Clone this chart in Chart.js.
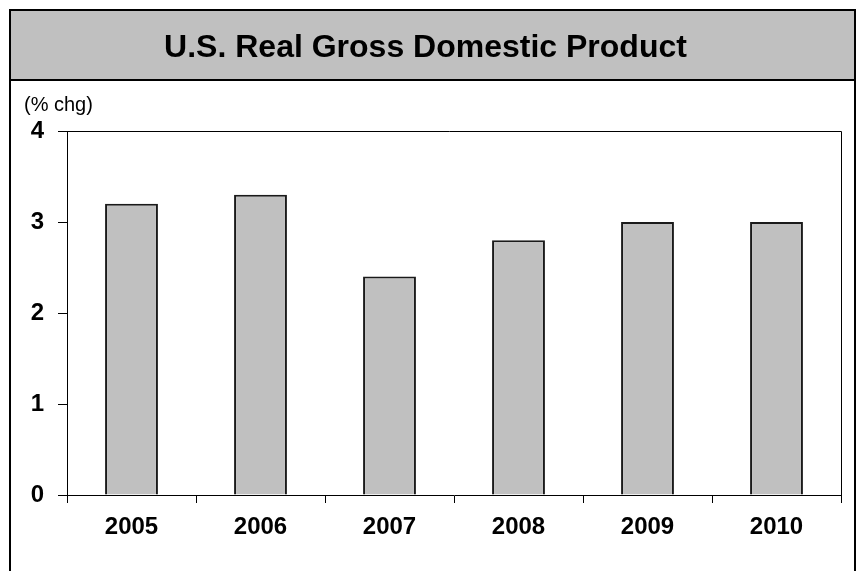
<!DOCTYPE html>
<html>
<head>
<meta charset="utf-8">
<script src="https://cdn.jsdelivr.net/npm/chart.js@4.4.1/dist/chart.umd.min.js"></script>
<style>
  html, body { margin: 0; padding: 0; background: #fff; }
  #wrap { width: 858px; height: 571px; }
</style>
</head>
<body>
<div id="wrap"><canvas id="gdp"></canvas></div>
<script>
const years = ['2005', '2006', '2007', '2008', '2009', '2010'];
const gdpChange = [3.2, 3.3, 2.4, 2.8, 3.0, 3.0];
const yTicks = [0, 1, 2, 3, 4];

const FONT = '"Liberation Sans", Arial, sans-serif';

// frame, grey title band, plot box and the "(% chg)" unit label
const frame = {
    id: 'frame',
    beforeDraw(chart) {
        const c = chart.ctx;
        c.save();
        c.fillStyle = '#c0c0c0';
        c.fillRect(10, 10, 845, 70);
        c.strokeStyle = '#000';
        c.lineWidth = 2;
        c.beginPath();
        c.moveTo(10, 571);
        c.lineTo(10, 10);
        c.lineTo(855, 10);
        c.lineTo(855, 571);
        c.moveTo(10, 80);
        c.lineTo(855, 80);
        c.stroke();
        c.restore();
    },
    afterDraw(chart) {
        const c = chart.ctx;
        const a = chart.chartArea;
        c.save();
        c.strokeStyle = '#000';
        c.lineWidth = 1;
        c.beginPath();
        c.moveTo(58, a.top + 0.5);
        c.lineTo(a.right + 0.5, a.top + 0.5);
        c.lineTo(a.right + 0.5, a.bottom + 8);
        c.stroke();
        c.fillStyle = '#000';
        c.font = '20px ' + FONT;
        c.textBaseline = 'middle';
        c.fillText('(% chg)', 24, 105);
        c.restore();
    }
};

new Chart(document.getElementById('gdp'), {
    type: 'bar',
    data: {
        labels: years,
        datasets: [{
            data: gdpChange,
            backgroundColor: '#c0c0c0',
            borderColor: '#1a1a1a',
            borderWidth: 2,
            barPercentage: 0.41,
            categoryPercentage: 1
        }]
    },
    options: {
        responsive: true,
        maintainAspectRatio: false,
        animation: false,
        layout: { padding: { left: 10, right: 17, top: 10, bottom: 0 } },
        plugins: {
            legend: { display: false },
            tooltip: { enabled: false },
            title: {
                display: true,
                text: 'U.S. Real Gross Domestic Product',
                color: '#000',
                font: { family: FONT, size: 32, weight: 'bold', lineHeight: 1.2 },
                padding: { top: 19, bottom: 63.6 }
            }
        },
        scales: {
            x: {
                offset: true,
                afterFit: (s) => { s.height = 76; },
                border: { color: '#000', width: 1 },
                grid: { offset: true, drawOnChartArea: false, color: '#000', tickLength: 8 },
                ticks: { color: '#000', padding: 10, font: { family: FONT, size: 24, weight: 'bold' } }
            },
            y: {
                min: 0,
                max: 4,
                afterFit: (s) => { s.width = 57; },
                afterBuildTicks: (s) => { s.ticks = yTicks.map((v) => ({ value: v })); },
                border: { color: '#000', width: 1 },
                grid: { drawOnChartArea: false, color: '#000', tickLength: 9 },
                ticks: { color: '#000', padding: 14, font: { family: FONT, size: 24, weight: 'bold' } }
            }
        }
    },
    plugins: [frame]
});
</script>
</body>
</html>
